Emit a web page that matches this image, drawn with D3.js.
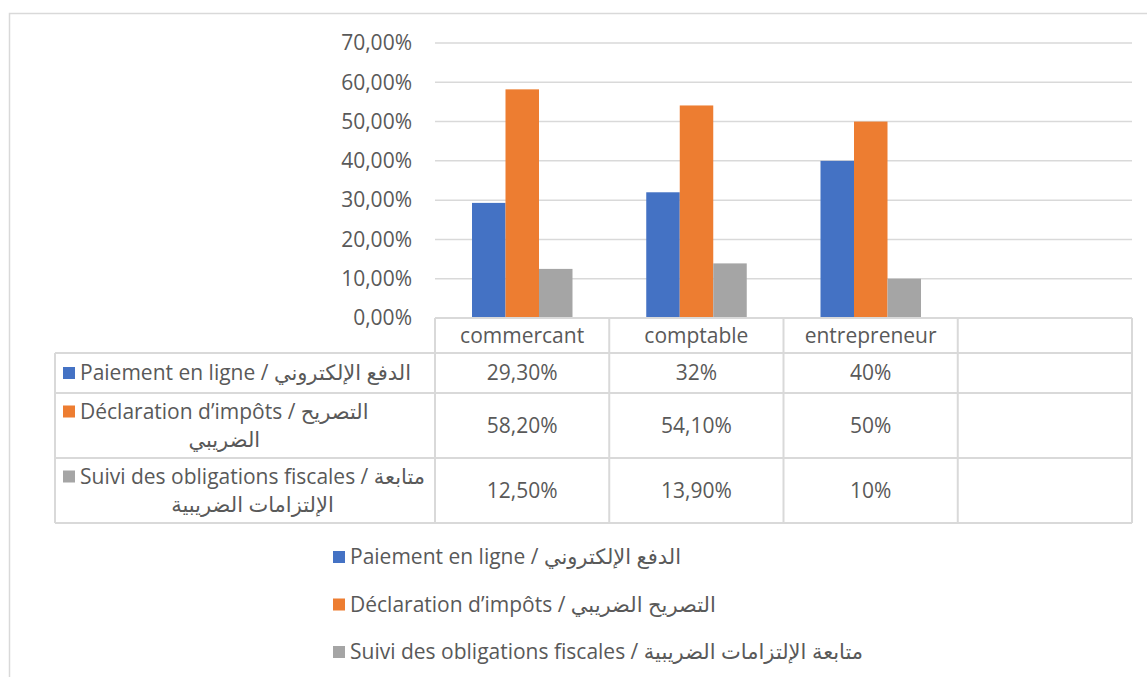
<!doctype html>
<html>
<head>
	<meta charset="utf-8">
	<script src="https://d3js.org/d3.v7.min.js"></script>
	<style>
		body { margin: 0; background: #fff; }
		text { font-family: "Open Sans", "DejaVu Sans", sans-serif; fill: #595959; }
	</style>
</head>
<body>
	<svg id="chart" width="1147" height="677"></svg>
	<script>

		var categories = ["commercant", "comptable", "entrepreneur", ""];
		var seriesNames = [
			"Paiement en ligne / الدفع الإلكتروني",
			"Déclaration d’impôts / التصريح الضريبي",
			"Suivi des obligations fiscales / متابعة الإلتزامات الضريبية"
		];
		// how the series names wrap inside the data table
		var tableLines = [
			["Paiement en ligne / الدفع الإلكتروني"],
			["Déclaration d’impôts / التصريح", "الضريبي"],
			["Suivi des obligations fiscales / متابعة", "الإلتزامات الضريبية"]
		];
		var paiement = [29.3, 32, 40];
		var declaration = [58.2, 54.1, 50];
		var suivi = [12.5, 13.9, 10];
		var tableText = [
			["29,30%", "32%", "40%"],
			["58,20%", "54,10%", "50%"],
			["12,50%", "13,90%", "10%"]
		];
		var yTicks = [0, 10, 20, 30, 40, 50, 60, 70];
		var colors = ["#4472C4", "#ED7D31", "#A5A5A5"];

		var series = [paiement, declaration, suivi];
		var fs = "21px";

		var svg = d3.select("#chart");
		var plot = {left: 435, right: 1132, top: 43, bottom: 318};

		// outer chart frame
		svg.append("rect")
			.attr("x", 9.5).attr("y", 13.5)
			.attr("width", 1160).attr("height", 700)
			.attr("fill", "none")
			.attr("stroke", "#d9d9d9")
			.attr("stroke-width", 1.5);

		var xScale = d3.scaleBand()
			.domain(categories)
			.range([plot.left, plot.right]);

		var xInner = d3.scaleBand()
			.domain(d3.range(series.length))
			.range([37, 137.5]);

		var yScale = d3.scaleLinear()
			.domain([0, 70])
			.range([plot.bottom, plot.top]);

		// gridlines
		svg.append("g")
			.selectAll("line")
			.data(yTicks)
			.enter()
			.append("line")
				.attr("x1", plot.left).attr("x2", plot.right)
				.attr("y1", d => yScale(d)).attr("y2", d => yScale(d))
				.attr("stroke", "#d9d9d9")
				.attr("stroke-width", 1.5);

		var yAxis = d3.axisLeft(yScale)
			.tickValues(yTicks)
			.tickSize(0)
			.tickPadding(12)
			.tickFormat(d => d3.format(".2f")(d).replace(".", ",") + "%");

		var yAxisG = svg.append("g")
			.attr("transform", "translate(" + (plot.left - 11) + ",0)")
			.call(yAxis);
		yAxisG.select(".domain").remove();
		yAxisG.selectAll("text")
			.style("font-size", fs)
			.attr("fill", "#595959");

		// bars
		series.forEach(function(vals, si) {
			svg.append("g")
				.selectAll("rect")
				.data(vals)
				.enter()
				.append("rect")
					.attr("x", (d, i) => xScale(categories[i]) + xInner(si))
					.attr("width", xInner.bandwidth())
					.attr("y", d => yScale(d))
					.attr("height", d => yScale(0) - yScale(d))
					.attr("fill", colors[si]);
		});

		// data table
		var table = svg.append("g");
		var rowEdges = [318, 353, 393, 458, 523];
		var tableLeft = 55;
		var lineColor = "#d9d9d9";

		// horizontal lines
		rowEdges.forEach(function(y, i) {
			table.append("line")
				.attr("x1", i === 0 ? plot.left : tableLeft).attr("x2", plot.right)
				.attr("y1", y).attr("y2", y)
				.attr("stroke", lineColor).attr("stroke-width", 2);
		});
		// vertical lines
		var colEdges = categories.map(c => xScale(c)).concat([plot.right]);
		colEdges.forEach(function(x) {
			table.append("line")
				.attr("x1", x).attr("x2", x)
				.attr("y1", rowEdges[0]).attr("y2", rowEdges[4])
				.attr("stroke", lineColor).attr("stroke-width", 2);
		});
		table.append("line")
			.attr("x1", tableLeft).attr("x2", tableLeft)
			.attr("y1", rowEdges[1]).attr("y2", rowEdges[4])
			.attr("stroke", lineColor).attr("stroke-width", 2);

		// category labels
		table.selectAll(".cat")
			.data(categories)
			.enter()
			.append("text")
				.attr("class", "cat")
				.attr("x", d => xScale(d) + xScale.bandwidth() / 2)
				.attr("y", (rowEdges[0] + rowEdges[1]) / 2)
				.attr("dy", "0.35em")
				.attr("text-anchor", "middle")
				.style("font-size", fs)
				.text(d => d);

		// row labels and values
		tableLines.forEach(function(lines, r) {
			var midY = (rowEdges[r + 1] + rowEdges[r + 2]) / 2;
			var lineH = 28;
			var y0 = midY - (lines.length - 1) * lineH / 2;
			table.append("rect")
				.attr("x", 63).attr("y", y0 - 6)
				.attr("width", 12).attr("height", 12)
				.attr("fill", colors[r]);
			var first = table.append("text")
				.attr("x", 80).attr("y", y0)
				.attr("dy", "0.35em")
				.style("font-size", fs)
				.text(lines[0]);
			var w = first.node().getComputedTextLength();
			for (var k = 1; k < lines.length; k++) {
				table.append("text")
					.attr("x", 80 + w / 2).attr("y", y0 + k * lineH)
					.attr("dy", "0.35em")
					.attr("text-anchor", "middle")
					.style("font-size", fs)
					.text(lines[k]);
			}
			tableText[r].forEach(function(t, c) {
				table.append("text")
					.attr("x", xScale(categories[c]) + xScale.bandwidth() / 2)
					.attr("y", midY)
					.attr("dy", "0.35em")
					.attr("text-anchor", "middle")
					.style("font-size", fs)
					.text(t);
			});
		});

		// legend
		var legend = svg.append("g")
			.selectAll("g")
			.data(seriesNames)
			.enter()
			.append("g")
				.attr("transform", (d, i) => "translate(333," + (557 + i * 47.5) + ")");
		legend.append("rect")
			.attr("x", 0).attr("y", -6)
			.attr("width", 12).attr("height", 12)
			.attr("fill", (d, i) => colors[i]);
		legend.append("text")
			.attr("x", 17)
			.attr("dy", "0.35em")
			.style("font-size", fs)
			.text(d => d);

	</script>
</body>
</html>
